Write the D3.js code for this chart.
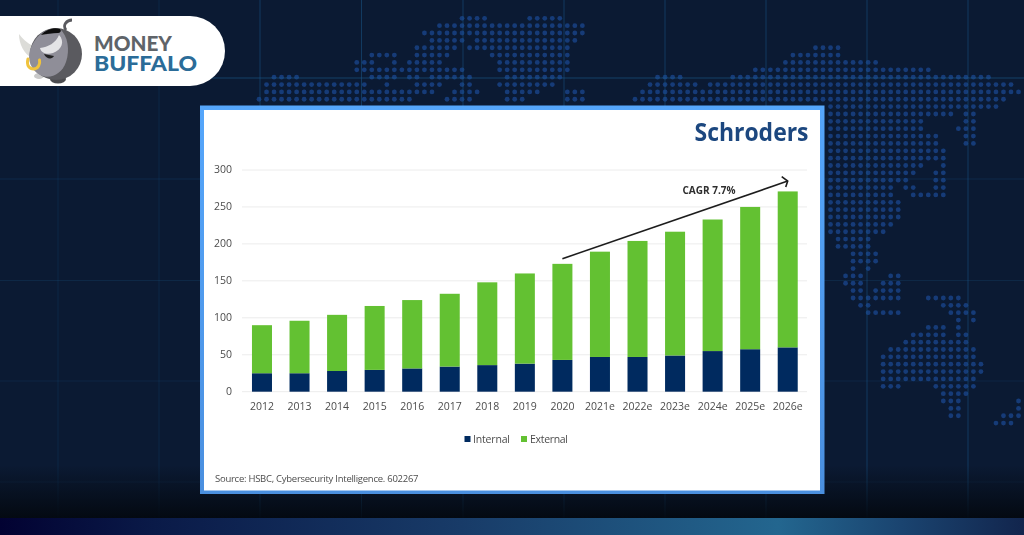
<!DOCTYPE html>
<html>
<head>
<meta charset="utf-8">
<script src="https://cdn.jsdelivr.net/npm/d3@7"></script>
<style>
  html, body { margin: 0; padding: 0; background: #0b1a33; overflow: hidden; }
  svg { display: block; }
  text { font-family: "Open Sans", sans-serif; }
</style>
</head>
<body>
<svg id="page" width="1024" height="535"></svg>
<script>
// Cybersecurity spend by year
const categories = ["2012","2013","2014","2015","2016","2017","2018","2019","2020","2021e","2022e","2023e","2024e","2025e","2026e"];
const internal = [25, 25, 28, 29.5, 31.5, 34, 36, 38, 43, 47, 47, 49, 55, 57.5, 60];
const external = [65, 71, 76, 86.5, 92.5, 98.5, 112, 122, 130, 142.5, 157, 167.5, 178, 192.5, 211];
const yTicks = [0, 50, 100, 150, 200, 250, 300];
const seriesNames = ["Internal", "External"];
const seriesColors = ["#052c5f", "#63c132"];
const cagrLabel = "CAGR 7.7%";
const sourceNote = "Source: HSBC, Cybersecurity Intelligence. 602267";

// Dotted world map backdrop: [row, first column, last column] runs
const mapRuns = [
  [0,27,30],[0,36,40],
  [1,24,43],[2,22,43],[3,23,27],[3,29,42],[4,21,26],[4,28,41],[4,74,77],
  [5,15,18],[5,21,25],[5,31,41],[5,71,77],
  [6,13,15],[6,18,18],[6,20,24],[6,32,41],[6,70,82],
  [7,13,27],[7,32,41],[7,66,89],
  [8,2,5],[8,15,18],[8,20,21],[8,23,28],[8,33,40],[8,53,56],[8,63,97],
  [9,1,14],[9,17,17],[9,21,24],[9,27,28],[9,32,39],[9,52,58],[9,60,100],
  [10,1,23],[10,26,29],[10,33,37],[10,41,43],[10,51,101],
  [11,0,20],[11,25,28],[11,33,35],[11,41,43],[11,50,99],
  [12,76,98],[13,76,92],[13,94,95],[14,76,88],[14,94,95],[15,76,88],[15,93,95],
  [16,76,90],[16,94,95],[17,76,90],[17,94,95],[18,76,91],[19,76,91],
  [20,76,88],[20,91,91],[21,76,87],[21,90,91],[22,76,86],[22,90,91],
  [23,76,84],[23,86,87],[23,90,91],[24,76,84],[24,87,91],
  [25,76,85],[26,76,85],[27,76,85],[28,76,84],[29,76,83],
  [30,77,81],[31,77,81],[32,79,82],[33,79,82],[34,79,79],[34,81,81],
  [35,78,80],[35,84,85],[36,78,80],[36,83,85],[37,79,80],[37,82,85],
  [38,79,85],[38,89,93],[39,80,81],[39,91,94],[40,81,85],[40,92,95],
  [41,93,93],[41,95,95],[42,89,91],[42,93,93],[43,87,91],[43,93,94],
  [44,86,94],[45,84,95],[46,83,95],[47,83,96],[48,83,96],[49,83,95],
  [50,83,85],[50,90,95],[51,91,94],[52,91,93],[52,101,101],[53,92,93],[53,101,101],
  [54,92,93],[54,99,101],[55,98,100]
];
const mapCols = d3.scaleLinear().domain([0, 1]).range([259, 266.52]);
const mapRows = d3.scaleLinear().domain([0, 1]).range([18.3, 25.66]);
const meridians = [58, 159, 260, 361.5, 463, 564, 665, 766, 867, 968];
const parallels = [78, 179, 280.5, 381, 482];

const svg = d3.select("#page");
const defs = svg.append("defs");

const fade = defs.append("linearGradient").attr("id", "floorFade").attr("x1", 0).attr("y1", 0).attr("x2", 0).attr("y2", 1);
fade.append("stop").attr("offset", 0).attr("stop-color", "#03080f").attr("stop-opacity", 0);
fade.append("stop").attr("offset", 1).attr("stop-color", "#03080f").attr("stop-opacity", 0.92);

const band = defs.append("linearGradient").attr("id", "footerBand");
[[0, "#020232"], [0.15, "#0a1a48"], [0.45, "#183b68"], [0.76, "#23668f"], [0.88, "#1a4470"], [1, "#12254d"]]
  .forEach(([o, c]) => band.append("stop").attr("offset", o).attr("stop-color", c));

const frame = defs.append("linearGradient").attr("id", "cardFrame").attr("x1", 0).attr("y1", 0).attr("x2", 0).attr("y2", 1);
frame.append("stop").attr("offset", 0).attr("stop-color", "#55a6fb");
frame.append("stop").attr("offset", 1).attr("stop-color", "#4a8fdf");

const soft = defs.append("filter").attr("id", "soft").attr("x", "-2%").attr("y", "-2%").attr("width", "104%").attr("height", "104%");
soft.append("feGaussianBlur").attr("stdDeviation", 0.45);

// Backdrop
svg.append("rect").attr("width", 1024).attr("height", 535).attr("fill", "#0b1a33");

const cells = mapRuns.flatMap(([r, a, b]) => d3.range(a, b + 1).map(c => ({ r, c })));
svg.append("g").attr("filter", "url(#soft)").selectAll("circle").data(cells).join("circle")
  .attr("cx", d => mapCols(d.c))
  .attr("cy", d => mapRows(d.r))
  .attr("r", 2.4)
  .attr("fill", "#153b78");

const lines = svg.append("g").attr("stroke", "#1a5a8e").attr("stroke-width", 1);
lines.selectAll("line.v").data(meridians).join("line").attr("class", "v")
  .attr("x1", d => d).attr("x2", d => d).attr("y1", 0).attr("y2", 518)
  .attr("stroke-opacity", d => d < 200 ? 0.2 : 0.5);
lines.selectAll("line.h").data(parallels).join("line").attr("class", "h")
  .attr("x1", 0).attr("x2", 1024).attr("y1", d => d).attr("y2", d => d)
  .attr("stroke-opacity", (d, i) => i === 0 ? 0.6 : 0.3 - i * 0.04);

svg.append("rect").attr("y", 465).attr("width", 1024).attr("height", 53).attr("fill", "url(#floorFade)");
svg.append("rect").attr("y", 518).attr("width", 1024).attr("height", 17).attr("fill", "url(#footerBand)");

// Card holding the chart
svg.append("rect").attr("x", 200).attr("y", 105.5).attr("width", 624.5).attr("height", 388.5).attr("fill", "url(#cardFrame)");
svg.append("rect").attr("x", 204).attr("y", 110).attr("width", 616).attr("height", 380.5).attr("fill", "#ffffff");

const chart = svg.append("g").attr("filter", "url(#soft)");

const x = d3.scaleBand().domain(categories).range([243.2, 806.5]).paddingInner(0.467).paddingOuter(0.2335);
const y = d3.scaleLinear().domain([0, 300]).range([391.7, 170]);

// Horizontal gridlines
chart.append("g").selectAll("line").data(yTicks).join("line")
  .attr("x1", 242).attr("x2", 807)
  .attr("y1", d => y(d)).attr("y2", d => y(d))
  .attr("stroke", "#ececec").attr("stroke-width", 1);

// Stacked bars
const rows = categories.map((c, i) => ({ category: c, Internal: internal[i], External: external[i] }));
const stacked = d3.stack().keys(seriesNames)(rows);
chart.append("g").selectAll("g").data(stacked).join("g")
  .attr("fill", (d, i) => seriesColors[i])
  .selectAll("rect").data(d => d).join("rect")
  .attr("x", d => x(d.data.category))
  .attr("width", x.bandwidth())
  .attr("y", d => y(d[1]))
  .attr("height", d => y(d[0]) - y(d[1]));

// Axes
const yAxis = chart.append("g").attr("transform", "translate(237,-1)")
  .call(d3.axisLeft(y).tickValues(yTicks).tickSize(0).tickPadding(5));
const xAxis = chart.append("g").attr("transform", "translate(0,400.5)")
  .call(d3.axisBottom(x).tickSize(0).tickPadding(0));
[yAxis, xAxis].forEach(a => {
  a.select(".domain").remove();
  a.selectAll("text").attr("fill", "#4c4c4c").style("font-size", "10.5px").style("font-family", '"Open Sans", sans-serif');
});
xAxis.selectAll("text").attr("dy", "0.9em");

// Growth arrow
const arrowFrom = [x("2020") + x.bandwidth() / 2, y(180)];
const arrowTo = [x("2026e") + x.bandwidth() / 2, y(285)];
chart.append("line")
  .attr("x1", arrowFrom[0]).attr("y1", arrowFrom[1]).attr("x2", arrowTo[0]).attr("y2", arrowTo[1])
  .attr("stroke", "#1c1c1c").attr("stroke-width", 1.6);
chart.append("path")
  .attr("d", d3.line()([[arrowTo[0] - 6, arrowTo[1] - 4.5], arrowTo, [arrowTo[0] - 2, arrowTo[1] + 6]]))
  .attr("fill", "none").attr("stroke", "#1c1c1c").attr("stroke-width", 1.6);
chart.append("text")
  .attr("x", 682.5).attr("y", 193.5)
  .attr("fill", "#2e2e2e").style("font-size", "10px").style("font-weight", 700)
  .attr("textLength", 53).attr("lengthAdjust", "spacingAndGlyphs").text(cagrLabel);

// Legend
const legendItems = [{ box: 464.5, label: 473, len: 37 }, { box: 521, label: 530, len: 38 }];
seriesNames.forEach((name, i) => {
  const it = legendItems[i];
  chart.append("rect").attr("x", it.box).attr("y", 436).attr("width", 6).attr("height", 6).attr("fill", seriesColors[i]);
  chart.append("text").attr("x", it.label).attr("y", 442.8).attr("fill", "#4c4c4c")
    .style("font-size", "10.5px").attr("textLength", it.len).text(name);
});

// Publisher mark and source note
chart.append("text").attr("x", 694.5).attr("y", 140.5)
  .attr("fill", "#1b477f").style("font-size", "25.5px").style("font-weight", 700)
  .attr("textLength", 114).attr("lengthAdjust", "spacingAndGlyphs").text("Schroders");
chart.append("text").attr("x", 215).attr("y", 482)
  .attr("fill", "#4c4c4c").style("font-size", "9.5px")
  .attr("textLength", 203.5).text(sourceNote);

// Brand badge
svg.append("path").attr("d", "M0,16 H190 A35,35 0 0 1 190,86 H0 Z").attr("fill", "#ffffff");
const bull = svg.append("g").attr("filter", "url(#soft)");
bull.append("path").attr("d", "M33,46 C27,43 22,38 19,34 C19,44 24,54 32,58 Z").attr("fill", "#dcdcd8");
bull.append("path").attr("d", "M66,30 C62,25 67,20 72,20").attr("fill", "none").attr("stroke", "#5a5a5e").attr("stroke-width", 2.8);
bull.append("ellipse").attr("cx", 58).attr("cy", 79).attr("rx", 8).attr("ry", 4.5).attr("fill", "#4c4c50");
bull.append("ellipse").attr("cx", 39).attr("cy", 76).attr("rx", 5).attr("ry", 3).attr("fill", "#c9c9c9");
bull.append("ellipse").attr("cx", 56).attr("cy", 54).attr("rx", 26).attr("ry", 26).attr("fill", "#5a5a5e");
bull.append("path").attr("d", "M60,29 C46,26 35,36 30,50 C27,60 31,70 40,75 C50,80 62,74 66,62 C70,50 68,36 60,29 Z").attr("fill", "#8f8e98");
bull.append("path").attr("d", "M41,35 C46,29 55,27 60,29 C62,31 60,33 58,33 C52,33 47,34 41,35 Z").attr("fill", "#111");
bull.append("path").attr("d", "M40,48 C48,47 56,43 59,35 C65,41 62,50 53,53 C47,55 41,53 40,48 Z").attr("fill", "#e4e4e6");
bull.append("path").attr("d", "M44,54 L54,56 C52,60 46,59 44,54 Z").attr("fill", "#222");
bull.append("path").attr("d", "M28,59 C26,66 30,69 33.5,69 C38,69 40.5,64 39.5,60").attr("fill", "none").attr("stroke", "#f0c33c").attr("stroke-width", 3).attr("stroke-linecap", "round");

svg.append("text").attr("x", 94).attr("y", 50.5)
  .attr("fill", "#5f6469").style("font-family", "Lato, sans-serif").style("font-size", "21px").style("font-weight", 900)
  .attr("textLength", 78).attr("lengthAdjust", "spacingAndGlyphs").text("MONEY");
svg.append("text").attr("x", 94).attr("y", 71)
  .attr("fill", "#2b6c98").style("font-family", "Lato, sans-serif").style("font-size", "21px").style("font-weight", 900)
  .attr("textLength", 103).attr("lengthAdjust", "spacingAndGlyphs").text("BUFFALO");
</script>
</body>
</html>
